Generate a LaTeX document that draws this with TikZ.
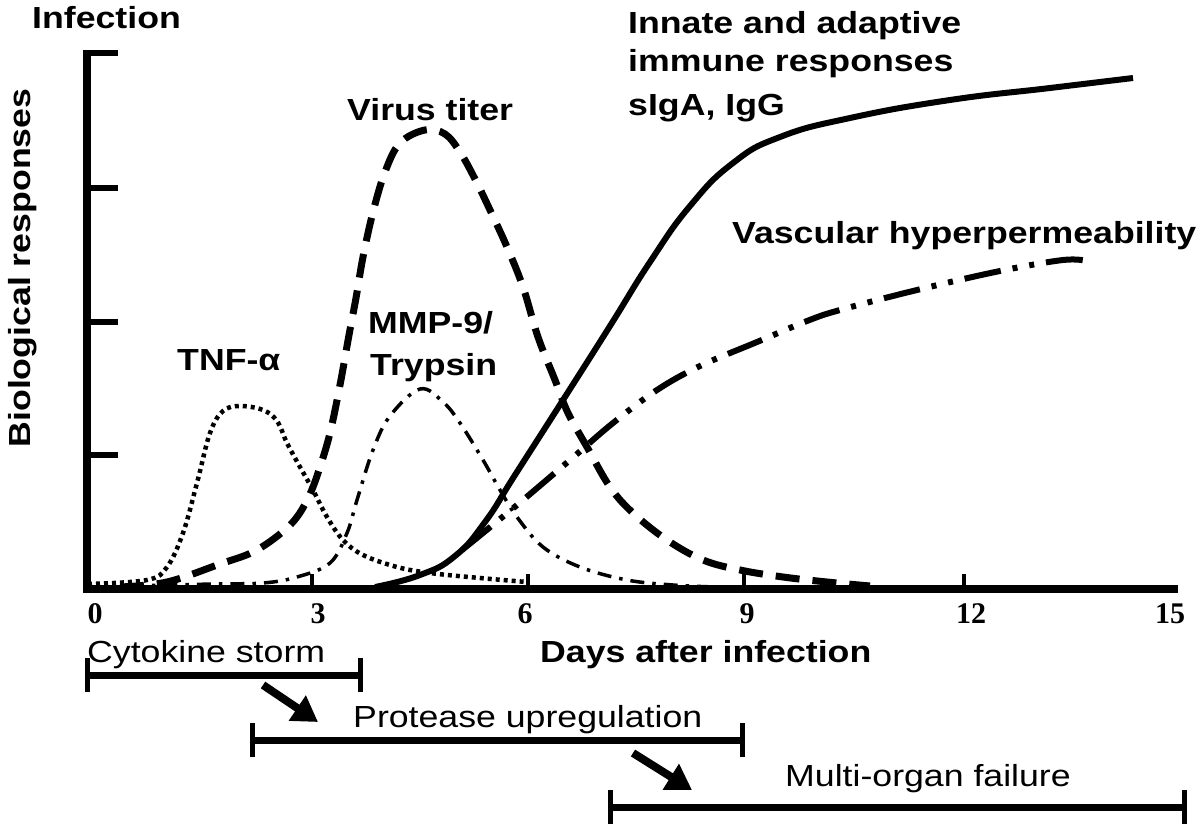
\documentclass[tikz,border=0pt]{standalone}
\usepackage{fontspec}
\usepackage{tikz}
\usetikzlibrary{arrows.meta}
\newfontfamily\labelfont[FakeStretch=1.17]{Liberation Sans}
\newfontfamily\numfont{Liberation Serif}
\tikzset{
  lbl/.style={inner sep=0pt,anchor=base west,font=\labelfont\bfseries\fontsize{30.5}{36}\selectfont},
  phaselbl/.style={inner sep=0pt,anchor=base west,font=\labelfont\fontsize{30.5}{36}\selectfont},
  num/.style={inner sep=0pt,anchor=base,font=\numfont\bfseries\fontsize{30}{33}\selectfont},
  axis/.style={line width=8.5pt},
  ytick/.style={line width=6pt},
  xtick/.style={line width=4pt},
  immune/.style={line width=6pt},
  virus/.style={line width=7pt,dash pattern=on 24pt off 13pt},
  tnf/.style={line width=4.5pt,dash pattern=on 4pt off 4pt},
  mmp/.style={line width=3.5pt,dash pattern=on 14pt off 8pt on 3.5pt off 8pt},
  vasc/.style={line width=6pt,dash pattern=on 37pt off 12pt on 5pt off 12pt on 5pt off 12pt},
  phase/.style={line width=7pt,{Bar[width=34pt,line width=5pt]}-{Bar[width=34pt,line width=5pt]}},
  push/.style={line width=8pt,-{Triangle[length=25pt,width=29pt]}}
}
\begin{document}
\begin{tikzpicture}[x=1pt,y=-1pt]
\useasboundingbox (0,0) rectangle (1200,827);
% curves
\draw[tnf] plot[smooth,tension=0.6] coordinates {(88,584) (147,580) (167,567) (183,533) (197,483) (210,433) (223,411) (240,406) (263,410) (277,421) (287,443) (300,467) (313,490) (327,517) (343,540) (363,555) (397,567) (430,573) (480,578) (527,582)};
\draw[virus] plot[smooth,tension=0.6] coordinates {(120,587) (167,582) (220,564) (253,552) (280,534) (297,517) (310,494) (320,467) (330,433) (340,385) (349,335) (356,298) (363,257) (373,212) (385,172) (400,143) (425,130) (445,134) (460,152) (475,179) (490,210) (507,247) (523,287) (538,337) (555,380) (568,413) (587,447) (610,487) (633,513) (667,540) (703,560) (740,570) (783,577) (827,582) (870,586)};
\draw[mmp] plot[smooth,tension=0.6] coordinates {(130,586) (213,584) (263,583) (297,577) (330,563) (347,533) (357,500) (373,450) (390,416) (420,389) (443,402) (460,423) (483,460) (500,490) (517,517) (543,547) (580,567) (627,580) (673,585) (715,587)};
\draw[vasc] plot[smooth,tension=0.6] coordinates {(462,550) (483,533) (523,500) (570,460) (613,423) (657,390) (700,366) (757,342) (807,321) (840,310) (917,290) (1000,271) (1063,260) (1087,261)};
\draw[immune] plot[smooth,tension=0.8] coordinates {(375,587) (420,575) (455,556) (485,522) (515,475) (563,400) (610,326) (650,262) (690,206) (733,163) (780,137) (850,118) (950,100) (1050,88) (1133,78)};
% axes
\coordinate (O) at (87,589);
\coordinate (ytop) at (87,50);
\coordinate (xend) at (1178,589);
\draw[axis] (ytop) -- ([yshift=-4pt]O);
\draw[axis] ([xshift=-4pt]O) -- (xend);
\foreach \y in {53,188,322,455}
  \draw[ytick] (87,\y) -- (118,\y);
\foreach \x in {312,528,744,964}
  \draw[xtick] (\x,589) -- (\x,574);
\foreach \x/\d in {95/0,318/3,525/6,747/9,971/12,1170/15}
  \node[num] (t\d) at (\x,623) {\d};
% labels
\node[lbl] (infect) at (32,28) {Infection};
\node[lbl,rotate=90,anchor=base] (bio) at (30,268) {Biological responses};
\node[lbl] (virus) at (347,120) {Virus titer};
\node[lbl] (innate1) at (628,33) {Innate and adaptive};
\node[lbl] (innate2) at (628,71) {immune responses};
\node[lbl] (innate3) at (628,115) {sIgA, IgG};
\node[lbl] (vascular) at (732,243) {Vascular hyperpermeability};
\node[lbl] (tnf) at (177,370) {TNF-α};
\node[lbl] (mmp1) at (368,333) {MMP-9/};
\node[lbl] (mmp2) at (370,375) {Trypsin};
\node[lbl] (days) at (540,662) {Days after infection};
% phases
\node[phaselbl] (storm) at (87,662) {Cytokine storm};
\node[phaselbl] (protease) at (353,727) {Protease upregulation};
\node[phaselbl] (failure) at (785,786) {Multi-organ failure};
\coordinate (s0) at (85,675);
\coordinate (s1) at (363,675);
\coordinate (p0) at (250,740);
\coordinate (p1) at (745,740);
\coordinate (f0) at (608,807);
\coordinate (f1) at (1187,807);
\draw[phase] (s0) -- (s1);
\draw[phase] (p0) -- (p1);
\draw[phase] (f0) -- (f1);
\coordinate (a1) at (263,685);
\coordinate (b1) at (318,722);
\coordinate (a2) at (633,753);
\coordinate (b2) at (692,790);
\draw[push] (a1) -- (b1);
\draw[push] (a2) -- (b2);
\end{tikzpicture}
\end{document}
